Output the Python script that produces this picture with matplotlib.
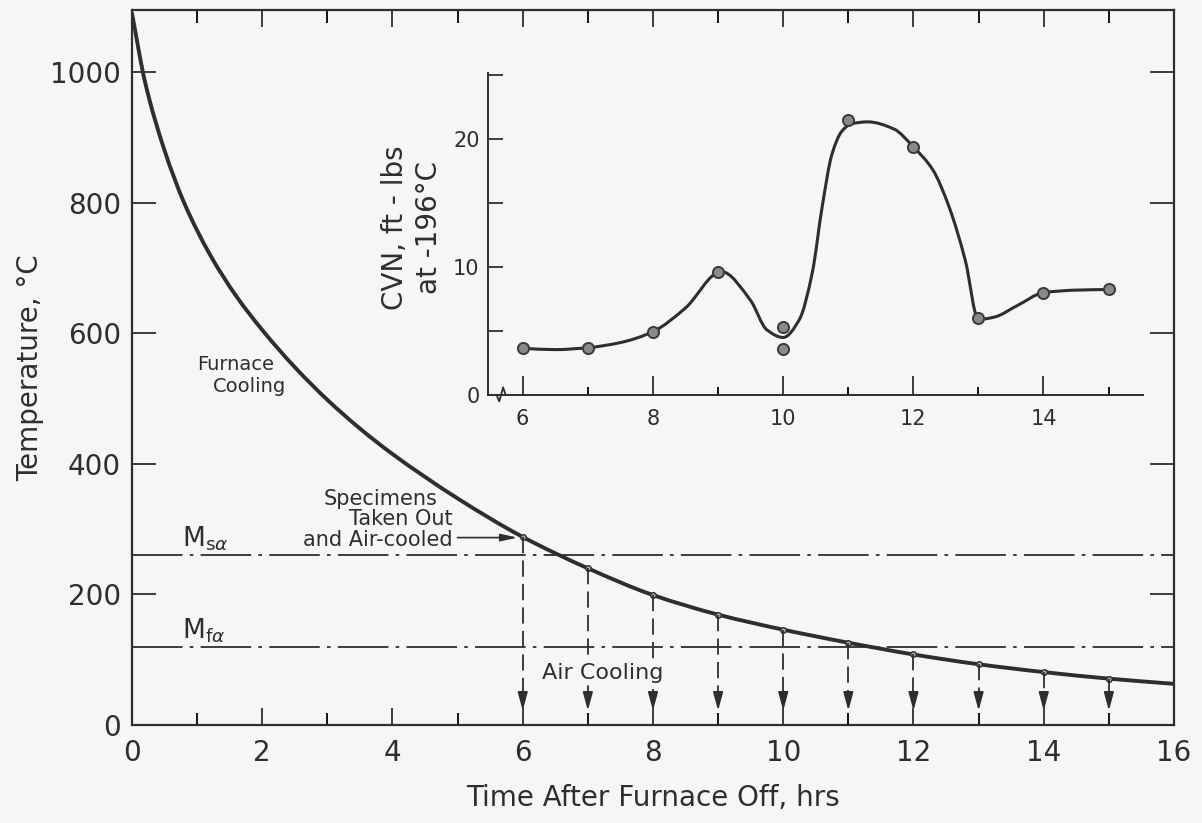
import numpy as np
import matplotlib
matplotlib.use("Agg")
import matplotlib.pyplot as plt
from matplotlib.path import Path
from matplotlib.patches import PathPatch

plt.rcParams['font.family'] = ['DejaVu Sans']
plt.rcParams['mathtext.fontset'] = 'dejavusans'

ink = '#2e2e2e'
paper = '#f6f6f4'

# furnace cooling curve (hours, deg C)
curve_t = [0, 0.2, 0.5, 0.8, 1.2, 1.6, 2.0, 2.5, 3.0, 3.5, 4.0, 5.0, 6, 7, 8, 9, 10, 11, 12, 13, 14, 15, 16]
curve_T = [1090, 985, 880, 800, 720, 657, 605, 548, 498, 454, 415, 347, 288, 240, 199, 169, 146, 126, 108, 93, 81, 71, 63]

# times the specimens were taken out
out_t = [6, 7, 8, 9, 10, 11, 12, 13, 14, 15]
out_T = [288, 240, 199, 169, 146, 126, 108, 93, 81, 71]

Ms = 260
Mf = 120

# CVN at -196 C, measured points
cvn_t = [6, 7, 8, 9, 10, 10, 11, 12, 13, 14, 15]
cvn_v = [3.65, 3.7, 4.95, 9.65, 5.3, 3.6, 21.5, 19.4, 6.0, 8.0, 8.25]

# hand drawn curve through them
cvn_curve_t = [6.0, 6.5, 7.0, 7.5, 8.0, 8.5, 9.05, 9.5, 9.75, 10.0, 10.25, 10.45, 10.6,
               10.75, 10.9, 11.05, 11.3, 11.7, 12.0, 12.3, 12.55, 12.8, 13.0, 13.25, 13.6,
               14.0, 14.5, 15.0]
cvn_curve_v = [3.65, 3.55, 3.7, 4.1, 4.95, 6.8, 9.65, 7.4, 5.1, 4.5, 5.9, 9.6, 14.7,
               18.8, 20.6, 21.2, 21.35, 20.8, 19.4, 17.6, 14.7, 10.5, 5.9, 6.1, 7.0,
               8.0, 8.2, 8.25]


def smooth_path(xs, ys):
    # piecewise cubic (pchip style tangents) written as bezier pieces
    x = np.asarray(xs, float)
    y = np.asarray(ys, float)
    h = np.diff(x)
    d = np.diff(y) / h
    m = np.zeros_like(y)
    m[0], m[-1] = d[0], d[-1]
    for i in range(1, len(x) - 1):
        if d[i - 1] * d[i] > 0:
            w1 = 2 * h[i] + h[i - 1]
            w2 = h[i] + 2 * h[i - 1]
            m[i] = (w1 + w2) / (w1 / d[i - 1] + w2 / d[i])
    verts = [(x[0], y[0])]
    codes = [Path.MOVETO]
    for i in range(len(h)):
        verts += [(x[i] + h[i] / 3, y[i] + m[i] * h[i] / 3),
                  (x[i + 1] - h[i] / 3, y[i + 1] - m[i + 1] * h[i] / 3),
                  (x[i + 1], y[i + 1])]
        codes += [Path.CURVE4] * 3
    return Path(verts, codes)


fig = plt.figure(figsize=(12.02, 8.23), dpi=100, facecolor=paper)
ax = fig.add_axes([0.1098, 0.1191, 0.8669, 0.8687], facecolor=paper)
ax.set_xlim(0, 16)
ax.set_ylim(0, 1095)

for s in ax.spines.values():
    s.set_linewidth(1.6)
    s.set_color(ink)

ax.set_xticks(range(0, 17, 2))
ax.set_xticks(range(1, 16, 2), minor=True)
ax.set_yticks(range(0, 1001, 200))
ax.tick_params(axis='x', which='major', direction='in', top=True, length=12, width=1.3,
               labelsize=20, pad=10, colors=ink)
ax.tick_params(axis='x', which='minor', direction='in', top=True, length=9, width=1.3)
ax.tick_params(axis='y', direction='in', right=True, length=17, width=1.3,
               labelsize=20, pad=8, colors=ink)
ax.set_xlabel('Time After Furnace Off, hrs', fontsize=20, color=ink, labelpad=12)
ax.set_ylabel('Temperature, °C', fontsize=20, color=ink, labelpad=4)

# cooling curve
ax.add_patch(PathPatch(smooth_path(curve_t, curve_T), fill=False, lw=2.8, ec=ink,
                       transform=ax.transData, capstyle='round'))
ax.plot(out_t, out_T, ls='none', marker='o', ms=4, mfc='#aaaaaa', mec=ink, mew=1)

# Ms / Mf lines
ax.axhline(Ms, color=ink, lw=1.3, ls=(0, (28, 4, 2, 4)))
ax.axhline(Mf, color=ink, lw=1.3, ls=(0, (28, 4, 2, 4)))
ax.text(0.77, 273, r'M$_{\mathrm{s}\alpha}$', fontsize=19, color=ink)
ax.text(0.77, 133, r'M$_{\mathrm{f}\alpha}$', fontsize=19, color=ink)

# air cooling drop lines
for t, T in zip(out_t, out_T):
    ax.plot([t, t], [T, 45], color=ink, lw=1.3, ls=(0, (9, 4)))
    ax.annotate('', xy=(t, 22), xytext=(t, 46),
                arrowprops=dict(arrowstyle='-|>,head_length=1.1,head_width=0.3',
                                color=ink, lw=1.3, shrinkA=0, shrinkB=0))

ax.text(1.0, 544, 'Furnace', fontsize=14, color=ink)
ax.text(1.24, 510, 'Cooling', fontsize=14, color=ink)
ax.text(6.30, 71, 'Air Cooling', fontsize=16, color=ink, zorder=5,
        bbox=dict(facecolor=paper, edgecolor='none', pad=1))
ax.text(3.82, 337, 'Specimens', fontsize=15, color=ink, ha='center')
ax.text(4.93, 306, 'Taken Out', fontsize=15, color=ink, ha='right')
ax.text(4.93, 274, 'and Air-cooled', fontsize=15, color=ink, ha='right')
ax.annotate('', xy=(5.92, 287), xytext=(5.0, 287),
            arrowprops=dict(arrowstyle='-|>,head_length=1.0,head_width=0.22',
                            color=ink, lw=1.2, shrinkA=0, shrinkB=0))

# inset: CVN toughness
ax2 = fig.add_axes([0.406, 0.520, 0.545, 0.391], facecolor='none')
ax2.set_xlim(5.468, 15.53)
ax2.set_ylim(0, 25.15)
ax2.spines['top'].set_visible(False)
ax2.spines['right'].set_visible(False)
for side in ['left', 'bottom']:
    ax2.spines[side].set_linewidth(1.4)
    ax2.spines[side].set_color(ink)
ax2.set_xticks([6, 8, 10, 12, 14])
ax2.set_xticks([7, 9, 11, 13, 15], minor=True)
ax2.set_yticks([0, 10, 20])
ax2.set_yticks([5, 15, 25], minor=True)
ax2.tick_params(axis='x', which='major', direction='in', length=14, width=1.3,
                labelsize=15, pad=10, colors=ink)
ax2.tick_params(axis='x', which='minor', direction='in', length=6, width=1.3)
ax2.tick_params(axis='y', which='both', direction='in', length=11, width=1.3,
                labelsize=15, pad=6, colors=ink)

ax2.add_patch(PathPatch(smooth_path(cvn_curve_t, cvn_curve_v), fill=False, lw=2.2, ec=ink,
                        transform=ax2.transData, capstyle='round'))
ax2.plot(cvn_t, cvn_v, ls='none', marker='o', ms=8, mfc='#8a8a8a', mec='#3a3a3a', mew=1.4)

# axis break mark near the origin
ax2.plot([5.60, 5.64, 5.70, 5.74], [0, -0.5, 0.6, 0], color=ink, lw=1.3, clip_on=False)

fig.text(412 / 1202, 1 - 228 / 823, 'CVN, ft - lbs\nat -196°C', rotation=90, fontsize=20,
         color=ink, ha='center', va='center', multialignment='center', linespacing=1.25)

fig.savefig('out.png', dpi=100, facecolor=paper)
